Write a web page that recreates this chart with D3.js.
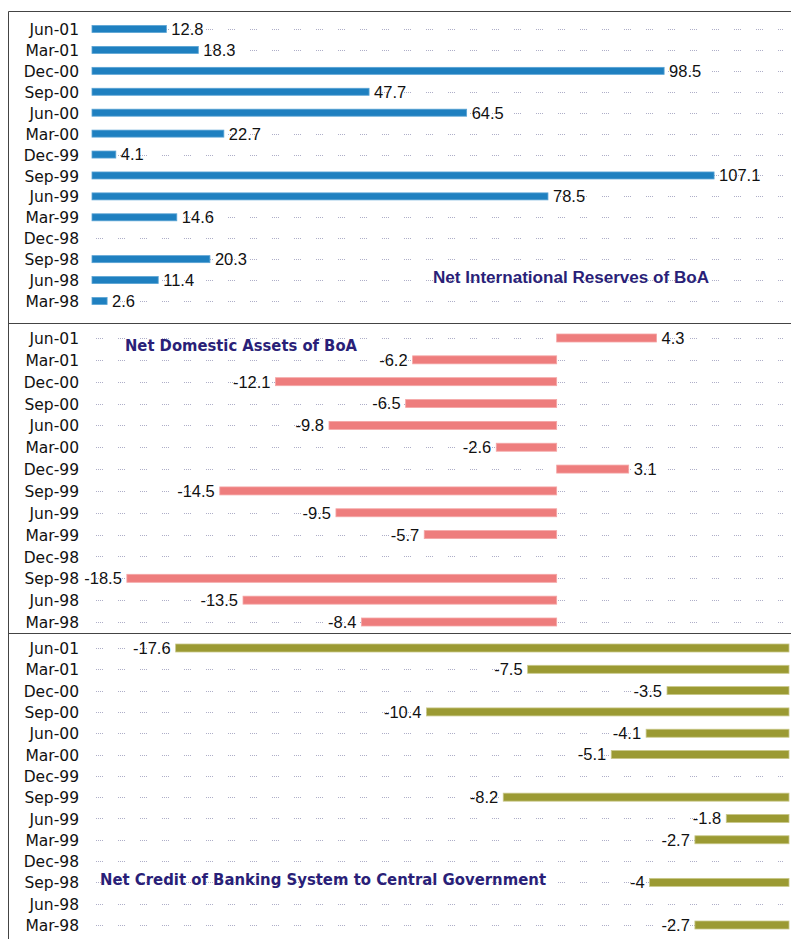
<!DOCTYPE html>
<html>
<head>
<meta charset="utf-8">
<script src="https://cdn.jsdelivr.net/npm/d3@7"></script>
<style>
  html, body { margin: 0; padding: 0; background: #fff; }
  svg { display: block; }
</style>
</head>
<body>
<svg id="chart" width="791" height="939"></svg>
<script>
// ---- data ----
const categories = ["Jun-01","Mar-01","Dec-00","Sep-00","Jun-00","Mar-00","Dec-99","Sep-99","Jun-99","Mar-99","Dec-98","Sep-98","Jun-98","Mar-98"];
const netInternationalReserves = [12.8, 18.3, 98.5, 47.7, 64.5, 22.7, 4.1, 107.1, 78.5, 14.6, null, 20.3, 11.4, 2.6];
const netDomesticAssets = [4.3, -6.2, -12.1, -6.5, -9.8, -2.6, 3.1, -14.5, -9.5, -5.7, null, -18.5, -13.5, -8.4];
const netCreditGovernment = [-17.6, -7.5, -3.5, -10.4, -4.1, -5.1, null, -8.2, -1.8, -2.7, null, -4, null, -2.7];
const panelTitles = ["Net International Reserves of BoA", "Net Domestic Assets of BoA", "Net Credit of Banking System to Central Government"];
const panelDomains = [[0, 120], [-20, 10], [-20, 0]];

// ---- layout ----
const svg = d3.select("#chart");
const plotX0 = 92, plotX1 = 789;
const panels = [
  { values: netInternationalReserves, title: panelTitles[0], domain: panelDomains[0], rows: [29, 301], color: "#1f80c0", edge: "#5aa3d4", barH: 7,
    titleX: 709, titleY: 277, titleAnchor: "end", titleFont: "'Liberation Sans', Arial, sans-serif", titleSize: 16, titleLen: 276 },
  { values: netDomesticAssets, title: panelTitles[1], domain: panelDomains[1], rows: [338, 622], color: "#ee7d7d", edge: "#f4a6a6", barH: 8,
    titleX: 125, titleY: 345, titleAnchor: "start", titleFont: "'DejaVu Sans', Verdana, sans-serif", titleSize: 15.5, titleLen: 232 },
  { values: netCreditGovernment, title: panelTitles[2], domain: panelDomains[2], rows: [648, 925], color: "#9b9a33", edge: "#c9c88a", barH: 8,
    titleX: 100, titleY: 879, titleAnchor: "start", titleFont: "'DejaVu Sans', Verdana, sans-serif", titleSize: 15.5, titleLen: 446 }
];

panels.forEach(p => {
  const x = d3.scaleLinear().domain(p.domain).range([plotX0, plotX1]);
  const y = d3.scalePoint().domain(categories).range(p.rows);
  const g = svg.append("g");

  // dotted gridlines at each row
  g.selectAll("line.grid").data(categories).join("line")
    .attr("x1", plotX0 + 4).attr("x2", plotX1 - 6)
    .attr("y1", d => Math.round(y(d)) + 0.5).attr("y2", d => Math.round(y(d)) + 0.5)
    .attr("stroke", "#aeaec8").attr("stroke-width", 1)
    .attr("stroke-dasharray", "1,1,1,1,1,1,1,15");

  // category axis labels
  const axis = d3.axisLeft(y).tickSize(0).tickPadding(0);
  const ax = g.append("g").attr("transform", "translate(79,0)").call(axis);
  ax.select(".domain").remove();
  ax.selectAll("text")
    .attr("font-family", "'DejaVu Sans', Verdana, sans-serif")
    .attr("font-size", 15.5).attr("fill", "#111")
    .attr("dy", "0.36em");

  const data = categories.map((c, i) => ({ c, v: p.values[i] })).filter(d => d.v !== null);
  const zero = x(0);

  g.selectAll("rect.bar").data(data).join("rect")
    .attr("x", d => Math.min(x(d.v), zero))
    .attr("width", d => Math.abs(x(d.v) - zero))
    .attr("y", d => y(d.c) - p.barH / 2)
    .attr("height", p.barH)
    .attr("fill", p.color)
    .attr("stroke", p.edge).attr("stroke-width", 0.8);

  g.selectAll("text.val").data(data).join("text")
    .attr("x", d => d.v >= 0 ? x(d.v) + 5 : x(d.v) - 5)
    .attr("y", d => y(d.c))
    .attr("dy", "0.36em")
    .attr("text-anchor", d => d.v >= 0 ? "start" : "end")
    .attr("font-family", "'Liberation Sans', Arial, sans-serif")
    .attr("font-size", 16.5).attr("fill", "#111")
    .text(d => d.v);

  g.append("text")
    .attr("x", p.titleX).attr("y", p.titleY).attr("dy", "0.36em")
    .attr("text-anchor", p.titleAnchor)
    .attr("font-family", p.titleFont).attr("font-weight", "bold")
    .attr("font-size", p.titleSize).attr("fill", "#2a1f78")
    .attr("textLength", p.titleLen).attr("lengthAdjust", "spacingAndGlyphs")
    .text(p.title);
});

// frame and dividers
const frame = svg.append("g").attr("stroke", "#444").attr("stroke-width", 1);
frame.append("line").attr("x1", 8.5).attr("x2", 791).attr("y1", 11.5).attr("y2", 11.5);
frame.append("line").attr("x1", 8.5).attr("x2", 8.5).attr("y1", 11.5).attr("y2", 939);
frame.append("line").attr("x1", 8.5).attr("x2", 791).attr("y1", 323.5).attr("y2", 323.5);
frame.append("line").attr("x1", 8.5).attr("x2", 791).attr("y1", 633.5).attr("y2", 633.5);
</script>
</body>
</html>
